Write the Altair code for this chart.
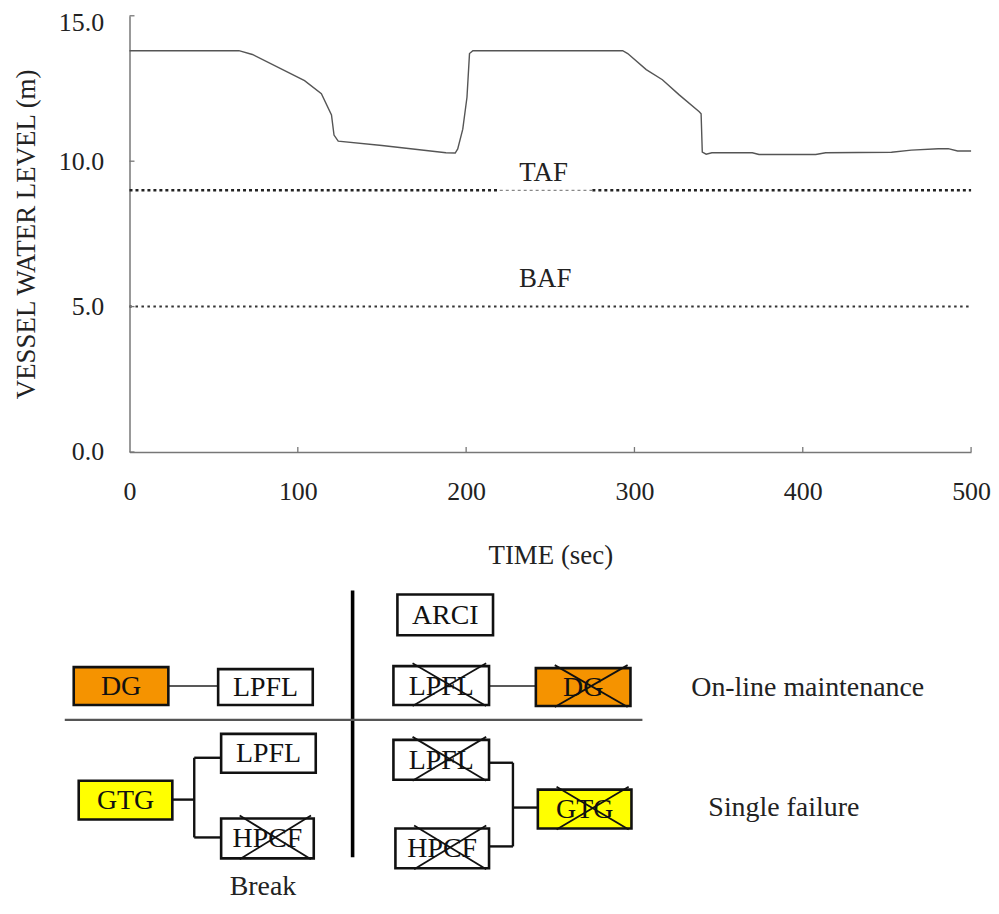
import altair as alt
import pandas as pd

# ---------------- data ----------------
time_s = [0, 65, 73, 104, 114, 120, 121.5, 124, 150, 188, 193.5, 195, 198, 200.5,
          202, 204, 293, 296, 307, 316.6, 326.6, 338.5, 339.6, 340.3, 342.6, 346,
          370, 374, 407.7, 413.6, 452.7, 464.5, 480.5, 486.4, 492, 500]
level_m = [13.8, 13.8, 13.67, 12.77, 12.32, 11.59, 10.9, 10.69, 10.54, 10.29, 10.28,
           10.42, 11.1, 12.2, 13.7, 13.8, 13.8, 13.7, 13.15, 12.8, 12.28, 11.7, 11.63,
           10.31, 10.24, 10.29, 10.29, 10.23, 10.23, 10.29, 10.31, 10.38, 10.43, 10.43,
           10.35, 10.35]

y_ticks = [0, 5, 10, 15]
x_ticks = [0, 100, 200, 300, 400, 500]

ref_names = ["TAF", "BAF"]
ref_levels = [9.0, 5.0]
ref_label_time = [246, 247]
ref_label_level = [9.33, 5.68]
taf_dotted_start = [0, 275]
taf_dotted_end = [220, 500]
taf_faint_start = [220]
taf_faint_end = [275]

# ---------------- schematic (reference picture coordinates) ----------------
box_labels = ["DG", "LPFL", "LPFL", "GTG", "HPCF",
              "ARCI", "LPFL", "DG", "LPFL", "HPCF", "GTG"]
box_x0 = [72, 217, 220, 77, 220, 397, 393, 536, 393, 395, 538]
box_x1 = [167, 312, 315, 171, 313, 493, 489, 631, 489, 489, 632]
box_y0 = [669, 671, 736, 783, 821, 596, 668, 670, 742, 831, 792]
box_y1 = [707, 707, 775, 822, 861, 637, 707, 708, 782, 871, 831]
box_fill = ["#F59300", "white", "white", "#FFFF00", "white",
            "white", "white", "#F59300", "white", "white", "#FFFF00"]
box_crossed = [False, False, False, False, True,
               False, True, True, True, True, True]

seg_x0 = [167, 171, 193, 193, 193, 489, 489, 513, 489, 513, 352, 63]
seg_x1 = [217, 193, 193, 220, 220, 536, 513, 513, 513, 538, 352, 643]
seg_y0 = [688, 802, 760, 760, 840, 688, 765, 765, 849, 810, 592, 722]
seg_y1 = [688, 802, 840, 760, 840, 688, 765, 849, 849, 810, 860, 722]
seg_w = [1.6, 2.4, 2.4, 2.4, 2.4, 1.6, 2.4, 2.4, 2.4, 2.4, 3.6, 2.2]
seg_c = ["#222", "#111", "#111", "#111", "#111", "#222", "#111", "#111", "#111",
         "#111", "#000", "#555"]

note_text = ["On-line maintenance", "Single failure"]
note_x = [809, 785]
note_y = [690, 810]
foot_text = ["Break"]
foot_x = [262]
foot_y = [898]

SERIF = "Liberation Serif"
W, H = 845, 438

# ---------------- top chart ----------------
df = pd.DataFrame({"time": time_s, "level": level_m})
xs = alt.Scale(domain=[0, 500], nice=False, zero=False)
ys = alt.Scale(domain=[0, 15], nice=False, zero=False)

x_axis = alt.Axis(
    values=x_ticks, title="TIME (sec)", ticks=False, tickSize=0, grid=False,
    labelFlush=False, labelOverlap=False, labelFontSize=26, labelPadding=27,
    labelColor="#222", labelFont=SERIF, domainColor="#777", domainWidth=1.5,
    titleFont=SERIF, titleFontSize=27, titleFontWeight="normal",
    titleColor="#222", titlePadding=38)
y_axis = alt.Axis(
    values=y_ticks, format=".1f", title="VESSEL WATER LEVEL (m)", ticks=False,
    tickSize=0, grid=False, labelFlush=False, labelOverlap=False,
    labelFontSize=26, labelPadding=26, labelColor="#222", labelFont=SERIF,
    labelOffset={"condition": {"test": "datum.value === 15", "value": 7}, "value": 0},
    domainColor="#777", domainWidth=1.5, titleFont=SERIF, titleFontSize=27,
    titleFontWeight="normal", titleColor="#222", titlePadding=18)


def X(field):
    return alt.X(field, scale=xs, axis=x_axis)


def Y(field):
    return alt.Y(field, scale=ys, axis=y_axis)


line = alt.Chart(df).mark_line(color="#555", strokeWidth=1.4).encode(
    x=X("time:Q"), y=Y("level:Q"))

ytick_df = pd.DataFrame({"v": y_ticks})
ytk = alt.Chart(ytick_df).mark_rule(color="#777", strokeWidth=1.3).encode(
    y=Y("v:Q"), x=alt.value(0), x2=alt.value(5))
xtick_df = pd.DataFrame({"v": x_ticks[1:]})
xtk = alt.Chart(xtick_df).mark_rule(color="#777", strokeWidth=1.3).encode(
    x=X("v:Q"), y=alt.value(H), y2=alt.value(H - 5))

taf_df = pd.DataFrame({"t0": taf_dotted_start, "t1": taf_dotted_end,
                       "lv": [ref_levels[0]] * len(taf_dotted_start)})
taf = alt.Chart(taf_df).mark_rule(color="#222", strokeWidth=2.6, strokeDash=[3, 3]).encode(
    x=X("t0:Q"), x2="t1:Q", y=Y("lv:Q"))
tafl_df = pd.DataFrame({"t0": taf_faint_start, "t1": taf_faint_end,
                        "lv": [ref_levels[0]] * len(taf_faint_start)})
tafl = alt.Chart(tafl_df).mark_rule(color="#888", strokeWidth=1.2, strokeDash=[3, 3]).encode(
    x=X("t0:Q"), x2="t1:Q", y=Y("lv:Q"))
baf_df = pd.DataFrame({"t0": [0], "t1": [500], "lv": [ref_levels[1]]})
baf = alt.Chart(baf_df).mark_rule(color="#333", strokeWidth=2.0, strokeDash=[2.5, 3.5]).encode(
    x=X("t0:Q"), x2="t1:Q", y=Y("lv:Q"))

lab_df = pd.DataFrame({"name": ref_names, "t": ref_label_time, "lv": ref_label_level})
labs = alt.Chart(lab_df).mark_text(font=SERIF, fontSize=27, color="#222",
                                   baseline="alphabetic", align="center").encode(
    x=X("t:Q"), y=Y("lv:Q"), text="name:N")

top = alt.layer(line, taf, tafl, baf, ytk, xtk, labs).properties(width=W, height=H)

# ---------------- schematic panel ----------------
Y_TOP, Y_BOT = 585, 898
sx = alt.Scale(domain=[128, 973], nice=False, zero=False)
sy = alt.Scale(domain=[Y_TOP, Y_BOT], nice=False, zero=False, reverse=True)
DH = Y_BOT - Y_TOP

boxes = pd.DataFrame({"label": box_labels, "x0": box_x0, "x1": box_x1,
                      "y0": box_y0, "y1": box_y1, "fill": box_fill,
                      "crossed": box_crossed})
boxes["cx"] = (boxes.x0 + boxes.x1) / 2
boxes["cy"] = (boxes.y0 + boxes.y1) / 2

crosses = []
for r in boxes[boxes.crossed].itertuples():
    w = r.x1 - r.x0
    l, rr, t, b = r.x0 + 0.2 * w, r.x1 - 0.03 * w, r.y0 - 3, r.y1 + 1
    crosses.append({"a": l, "b": rr, "c": t, "d": b})
    crosses.append({"a": rr, "b": l, "c": t, "d": b})
cross_df = pd.DataFrame(crosses)

seg_df = pd.DataFrame({"x0": seg_x0, "x1": seg_x1, "y0": seg_y0, "y1": seg_y1,
                       "w": seg_w, "c": seg_c})
note_df = pd.DataFrame({"t": note_text, "x": note_x, "y": note_y})
foot_df = pd.DataFrame({"t": foot_text, "x": foot_x, "y": foot_y})

segs = alt.Chart(seg_df).mark_rule().encode(
    x=alt.X("x0:Q", scale=sx, axis=None), x2="x1:Q",
    y=alt.Y("y0:Q", scale=sy, axis=None), y2="y1:Q",
    strokeWidth=alt.StrokeWidth("w:Q", scale=None),
    color=alt.Color("c:N", scale=None))
rects = alt.Chart(boxes).mark_rect(stroke="#111", strokeWidth=2.6).encode(
    x=alt.X("x0:Q", scale=sx, axis=None), x2="x1:Q",
    y=alt.Y("y0:Q", scale=sy, axis=None), y2="y1:Q",
    fill=alt.Fill("fill:N", scale=None))
btext = alt.Chart(boxes).mark_text(font=SERIF, fontSize=28, color="#111",
                                   baseline="middle", align="center", dy=1).encode(
    x=alt.X("cx:Q", scale=sx, axis=None), y=alt.Y("cy:Q", scale=sy, axis=None),
    text="label:N")
xs_marks = alt.Chart(cross_df).mark_rule(color="#111", strokeWidth=1.8).encode(
    x=alt.X("a:Q", scale=sx, axis=None), x2="b:Q",
    y=alt.Y("c:Q", scale=sy, axis=None), y2="d:Q")
notes = alt.Chart(note_df).mark_text(font=SERIF, fontSize=28, color="#222",
                                     baseline="middle", align="center").encode(
    x=alt.X("x:Q", scale=sx, axis=None), y=alt.Y("y:Q", scale=sy, axis=None),
    text="t:N")
foot = alt.Chart(foot_df).mark_text(font=SERIF, fontSize=28, color="#222",
                                    baseline="alphabetic", align="center").encode(
    x=alt.X("x:Q", scale=sx, axis=None), y=alt.Y("y:Q", scale=sy, axis=None),
    text="t:N")

diagram = alt.layer(segs, rects, btext, xs_marks, notes, foot).properties(width=W, height=DH)

chart = alt.vconcat(top, diagram, spacing=15).configure(
    font=SERIF, padding={"left": 4, "top": 0, "right": 0, "bottom": 0}
).configure_view(stroke=None)

chart.save("out.html", embed_options={"renderer": "svg", "actions": False})
